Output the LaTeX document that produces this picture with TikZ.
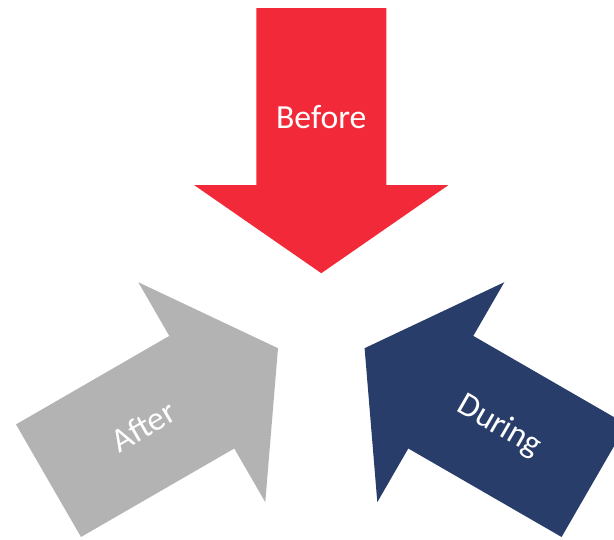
\documentclass[tikz,border=0pt]{standalone}
\usepackage{fontspec}
\setmainfont{Carlito}
\usepackage{tikz}
\usetikzlibrary{positioning}
\definecolor{beforered}{RGB}{242,41,56}
\definecolor{aftergray}{RGB}{179,179,179}
\definecolor{duringblue}{RGB}{40,61,106}

\begin{document}
\begin{tikzpicture}[x=0.025cm, y=0.025cm, every node/.style={font=\fontsize{24}{28}\selectfont}]
\tikzset{phase/.style={text=white, inner sep=0pt}}
\useasboundingbox (-321.3,-216.8) rectangle (292.7,323.2);
\clip (-321.3,-216.8) rectangle (292.7,323.2);
% block arrows around the centre
\fill[beforered] (0,50) -- (127,138) -- (65,138) -- (65,315) -- (-65,315) -- (-65,138) -- (-127,138) -- cycle;
\fill[aftergray, rotate=120] (0,50) -- (127,138) -- (65,138) -- (65,315) -- (-65,315) -- (-65,138) -- (-127,138) -- cycle;
\fill[duringblue, rotate=240] (0,50) -- (127,138) -- (65,138) -- (65,315) -- (-65,315) -- (-65,138) -- (-127,138) -- cycle;
\node[phase] (before) at (0,206) {Before};
\node[phase, rotate=30] (after) at (-178,-103) {After};
\node[phase, rotate=-30] (during) at (178,-103) {During};
\end{tikzpicture}
\end{document}
